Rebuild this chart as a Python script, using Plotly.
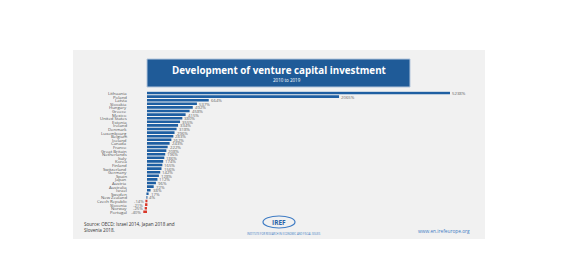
import plotly.graph_objects as go

countries = ["Lithuania", "Poland", "Latvia", "Slovakia", "Hungary", "Greece", "Mexico",
             "United States", "Estonia", "Ireland", "Denmark", "Luxembourg", "Belgium",
             "Iceland", "Canada", "France", "Great Britain", "Netherlands", "Italy", "Korea",
             "Finland", "Switzerland", "Germany", "Spain", "Japan", "Austria", "Australia",
             "Israel", "Sweden", "New Zealand", "Czech Republic", "Slovenia", "Norway", "Portugal"]
values = [5238, 2065, 664, 537, 492, 458, 415, 380, 355, 334, 318, 296, 283, 262, 243, 222,
          208, 196, 186, 174, 165, 156, 142, 128, 112, 96, 72, 38, 17, 4, -14, -21, -25, -40]
labels = [f"{v}%" for v in values]

title_text = "Development of venture capital investment"
subtitle_text = "2010 to 2019"
source_text = "Source: OECD; Israel 2014, Japan 2018 and<br>Slovenia 2018."
website_text = "www.en.irefeurope.org"

W, H = 585, 263
X_MIN, X_MAX = -60, 3258


def px(x):
    return x / W


def py(y):
    return 1 - y / H


BLUE = "#1f5fa2"
RED = "#d9382a"
colors = [BLUE if v >= 0 else RED for v in values]

fig = go.Figure()
fig.add_trace(go.Bar(
    x=values, y=countries, orientation="h",
    marker=dict(color=colors, line=dict(width=0)),
    hoverinfo="skip",
))

annotations = []
for c, v, t in zip(countries, values, labels):
    annotations.append(dict(x=px(128), y=c, xref="paper", yref="y", text=c,
                            showarrow=False, xanchor="right", borderpad=0,
                            font=dict(size=4.3, color="#555555", family="Open Sans")))
    if v >= 0:
        annotations.append(dict(x=min(v, X_MAX), y=c, xref="x", yref="y", text=t,
                                showarrow=False, xanchor="left", xshift=1, borderpad=0,
                                font=dict(size=4.3, color="#666666", family="Open Sans")))
    else:
        annotations.append(dict(x=v, y=c, xref="x", yref="y", text=t,
                                showarrow=False, xanchor="right", xshift=-1, borderpad=0,
                                font=dict(size=4.3, color="#666666", family="Open Sans")))

annotations += [
    dict(x=px(278.5), y=py(70), xref="paper", yref="paper", text=f"<b>{title_text}</b>",
         showarrow=False, xanchor="center", yanchor="middle",
         font=dict(size=9.8, color="white", family="Open Sans")),
    dict(x=px(287), y=py(79.5), xref="paper", yref="paper", text=subtitle_text,
         showarrow=False, xanchor="center", yanchor="middle",
         font=dict(size=4.5, color="white", family="Open Sans")),
    dict(x=px(82), y=py(226.5), xref="paper", yref="paper", text=source_text,
         showarrow=False, xanchor="left", yanchor="middle", align="left",
         font=dict(size=4.6, color="#333333", family="Open Sans")),
    dict(x=px(472), y=py(231), xref="paper", yref="paper", text=website_text,
         showarrow=False, xanchor="right", yanchor="middle",
         font=dict(size=4.8, color="#3f7cc4", family="Open Sans")),
    dict(x=px(279), y=py(222), xref="paper", yref="paper", text="<b>IREF</b>",
         showarrow=False, xanchor="center", yanchor="middle",
         font=dict(size=6.5, color="#2a64a8", family="Open Sans")),
    dict(x=px(284), y=py(234), xref="paper", yref="paper",
         text="INSTITUTE FOR RESEARCH IN ECONOMIC AND FISCAL ISSUES",
         showarrow=False, xanchor="center", yanchor="middle",
         font=dict(size=2.6, color="#3f7cc4", family="Open Sans")),
]

shapes = [
    dict(type="rect", xref="paper", yref="paper", x0=px(73), x1=px(485), y0=py(239), y1=py(50),
         fillcolor="#f1f1f1", line=dict(width=0), layer="below"),
    dict(type="rect", xref="paper", yref="paper", x0=px(147), x1=px(410), y0=py(87), y1=py(59),
         fillcolor="#1f5b98", line=dict(color="#b4c6dc", width=1), layer="below"),
    dict(type="circle", xref="paper", yref="paper", x0=px(263), x1=px(295), y0=py(228), y1=py(216),
         fillcolor="rgba(0,0,0,0)", line=dict(color="#3f7cc4", width=1.2)),
]

d0 = (147 + X_MIN * (303 / X_MAX)) / W
fig.update_layout(
    width=W, height=H,
    margin=dict(l=0, r=0, t=0, b=0),
    paper_bgcolor="white",
    plot_bgcolor="rgba(0,0,0,0)",
    showlegend=False,
    bargap=0.28,
    xaxis=dict(range=[X_MIN, X_MAX], domain=[d0, 450 / W], showgrid=False, zeroline=False,
               showticklabels=False, showline=False, fixedrange=True),
    yaxis=dict(type="category", categoryorder="array", categoryarray=countries,
               range=[len(countries) - 0.5, -0.5], domain=[py(213.6), py(91.2)],
               showgrid=False, zeroline=False, showline=False, ticks="",
               showticklabels=False),
    annotations=annotations,
    shapes=shapes,
)

fig.write_html("out.html")
